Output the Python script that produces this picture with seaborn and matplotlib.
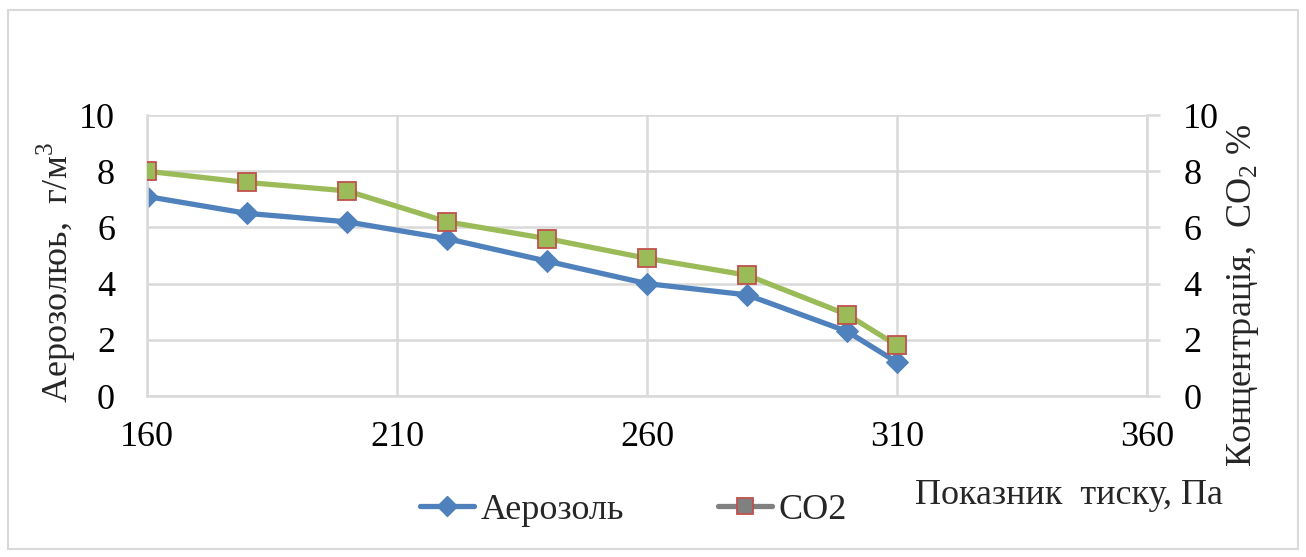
import matplotlib
matplotlib.use("Agg")
import matplotlib.pyplot as plt
from matplotlib.lines import Line2D
from matplotlib.patches import Rectangle
import seaborn as sns
import pandas as pd

pressure = [160, 180, 200, 220, 240, 260, 280, 300, 310]
aerosol = [7.1, 6.5, 6.2, 5.6, 4.8, 4.0, 3.6, 2.3, 1.2]
co2 = [8.0, 7.6, 7.3, 6.2, 5.6, 4.9, 4.3, 2.9, 1.8]

x_ticks = [160, 210, 260, 310, 360]
y_ticks = [0, 2, 4, 6, 8, 10]

sns.set_theme(style="white")
plt.rcParams["font.family"] = ["Liberation Serif", "DejaVu Serif"]
plt.rcParams["mathtext.fontset"] = "custom"
plt.rcParams["mathtext.rm"] = "Liberation Serif"

BLUE = "#4F81BD"
GREEN = "#9BBB59"
RED = "#C0504D"
GRID = "#D9D9D9"
FS = 26

df = pd.DataFrame({"p": pressure, "aer": aerosol, "co2": co2})

fig = plt.figure(figsize=(13.06, 5.57), dpi=100)
ax = fig.add_axes([0.1126, 0.289, 0.7657, 0.5045])
ax2 = ax.twinx()

sns.lineplot(data=df, x="p", y="aer", ax=ax, color=BLUE, lw=3.8,
             marker="D", markersize=11, markeredgecolor=BLUE, legend=False)
sns.lineplot(data=df, x="p", y="co2", ax=ax2, color=GREEN, lw=3.8,
             marker="s", markersize=12.5, markerfacecolor=GREEN,
             markeredgecolor=RED, markeredgewidth=1.3, legend=False)

for a in (ax, ax2):
    a.set_xlim(160, 360)
    a.set_ylim(0, 10)
    a.set_yticks(y_ticks)
    for s in a.spines.values():
        s.set_visible(False)

ax.set_xticks(x_ticks)
ax.grid(True, color=GRID, lw=1.8)
ax.set_axisbelow(True)
ax.spines["left"].set_visible(True)
ax.spines["left"].set_color(GRID)
ax.spines["left"].set_linewidth(1.8)
ax.spines["bottom"].set_visible(True)
ax.spines["bottom"].set_color(GRID)
ax.spines["bottom"].set_linewidth(1.8)
ax2.spines["right"].set_visible(True)
ax2.spines["right"].set_color(GRID)
ax2.spines["right"].set_linewidth(1.8)

ax.tick_params(axis="y", length=0, pad=23, labelsize=FS, colors="black")
ax.tick_params(axis="x", length=0, pad=18, labelsize=FS, colors="black")
ax2.tick_params(axis="y", direction="out", length=9, width=1.8, color=GRID,
                pad=17, labelsize=FS, labelcolor="black")
ax.set_xlabel("")
ax.set_ylabel("")
ax2.set_ylabel("")

fig.text(0.043, 0.51, "Аерозолюь,  г/м$^3$", rotation=90, ha="center",
         va="center", fontsize=FS)
fig.text(0.952, 0.47, "Концентрація,  CO$_2$ %", rotation=90, ha="center",
         va="center", fontsize=FS)
fig.text(0.936, 0.111, "Показник  тиску, Па", ha="right", va="center",
         fontsize=FS)

handles = [
    Line2D([], [], color=BLUE, lw=3.8, marker="D", markersize=10,
           markeredgecolor=BLUE),
    Line2D([], [], color="#808080", lw=3.8, marker="s", markersize=11,
           markerfacecolor="#808080", markeredgecolor=RED,
           markeredgewidth=1.3),
]
fig.legend(handles, ["Аерозоль", "CO2"], loc="center", ncol=2,
           bbox_to_anchor=(0.485, 0.084), frameon=False, fontsize=FS,
           handlelength=1.5, handletextpad=0.17, columnspacing=2.6)

fig.patches.append(Rectangle((0.006, 0.014), 0.988, 0.968,
                             transform=fig.transFigure, fill=False,
                             edgecolor=GRID, lw=1.5))

fig.savefig("out.png", dpi=100)
